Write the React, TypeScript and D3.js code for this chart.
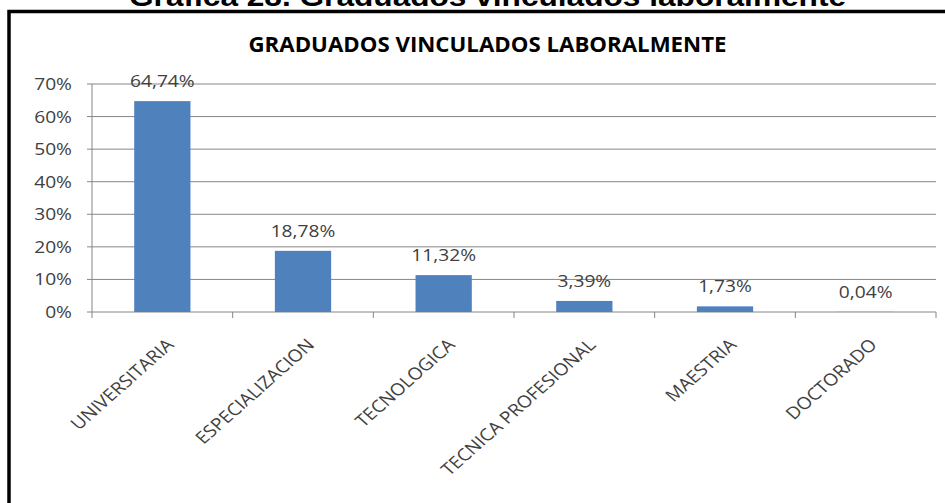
import React from "react";
import * as d3 from "d3";

const categories = [
  "UNIVERSITARIA",
  "ESPECIALIZACION",
  "TECNOLOGICA",
  "TECNICA PROFESIONAL",
  "MAESTRIA",
  "DOCTORADO",
];
const values = [64.74, 18.78, 11.32, 3.39, 1.73, 0.04];
const yTicks = [0, 10, 20, 30, 40, 50, 60, 70];
const chartTitle = "GRADUADOS VINCULADOS LABORALMENTE";
const pageTitle = "Gráfica 28. Graduados vinculados laboralmente";

const W = 945;
const H = 503;
const SX = 1.13;
const FONT = "'Open Sans', sans-serif";
const GRID = "#868686";
const TEXT = "#404040";
const BAR = "#4F81BD";

const fmt = d3.formatLocale({
  decimal: ",",
  thousands: ".",
  grouping: [3],
  currency: ["", ""],
}).format(".2f");

export default function App() {
  const plot = { left: 92, right: 936, top: 84, bottom: 312 };
  const x = d3
    .scaleBand<string>()
    .domain(categories)
    .range([plot.left, plot.right])
    .padding(0);
  const y = d3.scaleLinear().domain([0, 70]).range([plot.bottom, plot.top]);
  const bw = x.bandwidth() * 0.4;
  const boundaries = [...categories.map((c) => x(c) as number), plot.right];

  return (
    <svg
      width={W}
      height={H}
      style={{ position: "absolute", left: 0, top: 0, background: "#fff" }}
    >
      <rect x={0} y={0} width={W} height={H} fill="#fff" />
      {/* cut-off page title */}
      <text
        transform={`translate(487.5,6) scale(${SX},1)`}
        textAnchor="middle"
        fontFamily="'Liberation Sans', Arial, sans-serif"
        fontWeight="bold"
        fontSize={28}
        fill="#000"
      >
        {pageTitle}
      </text>
      {/* frame */}
      <rect
        x={9}
        y={11.5}
        width={1000}
        height={600}
        fill="none"
        stroke="#000"
        strokeWidth={3.5}
      />
      {/* chart title */}
      <text
        transform={`translate(487.5,52) scale(1.06,1)`}
        textAnchor="middle"
        fontFamily={FONT}
        fontWeight="bold"
        fontSize={21}
        fill="#000"
      >
        {chartTitle}
      </text>
      {/* gridlines */}
      {yTicks.map((t) => (
        <line
          key={"g" + t}
          x1={plot.left - 5}
          x2={plot.right}
          y1={y(t)}
          y2={y(t)}
          stroke={GRID}
          strokeWidth={1}
        />
      ))}
      {/* y axis */}
      <line
        x1={plot.left}
        x2={plot.left}
        y1={plot.top}
        y2={plot.bottom}
        stroke={GRID}
        strokeWidth={1}
      />
      {yTicks.map((t) => (
        <text
          key={"t" + t}
          transform={`translate(72,${y(t) + 6}) scale(${SX},1)`}
          textAnchor="end"
          fontFamily={FONT}
          fontSize={17}
          fill={TEXT}
        >
          {t + "%"}
        </text>
      ))}
      {/* x ticks */}
      {boundaries.map((b, i) => (
        <line
          key={"xt" + i}
          x1={b}
          x2={b}
          y1={plot.bottom}
          y2={plot.bottom + 6}
          stroke={GRID}
          strokeWidth={1}
        />
      ))}
      {/* bars */}
      {categories.map((c, i) => {
        const cx = (x(c) as number) + x.bandwidth() / 2;
        return (
          <rect
            key={"b" + c}
            x={cx - bw / 2}
            y={y(values[i])}
            width={bw}
            height={plot.bottom - y(values[i])}
            fill={BAR}
          />
        );
      })}
      {/* value labels */}
      {categories.map((c, i) => {
        const cx = (x(c) as number) + x.bandwidth() / 2;
        return (
          <text
            key={"v" + c}
            transform={`translate(${cx},${y(values[i]) - 14}) scale(${SX},1)`}
            textAnchor="middle"
            fontFamily={FONT}
            fontSize={17}
            fill={TEXT}
          >
            {fmt(values[i]) + "%"}
          </text>
        );
      })}
      {/* category labels */}
      {categories.map((c) => {
        const cx = (x(c) as number) + x.bandwidth() / 2;
        return (
          <text
            key={"c" + c}
            transform={`translate(${cx + 12.5},346) scale(${SX},1) rotate(-45)`}
            textAnchor="end"
            fontFamily={FONT}
            fontSize={17}
            fill={TEXT}
          >
            {c}
          </text>
        );
      })}
    </svg>
  );
}
